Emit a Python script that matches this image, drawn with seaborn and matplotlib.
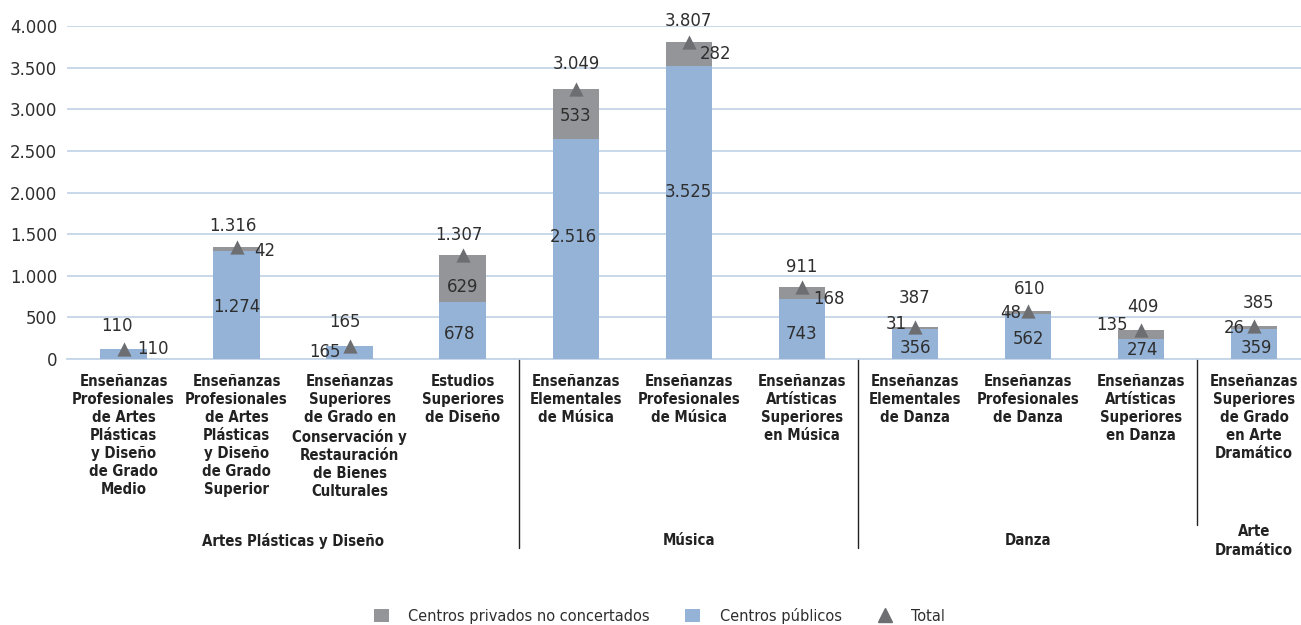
import matplotlib
matplotlib.use("Agg")
import matplotlib.pyplot as plt
import matplotlib.transforms as mtransforms
from matplotlib import font_manager as fm
from matplotlib.patches import Patch
from matplotlib.lines import Line2D
import numpy as np
import pandas as pd
import seaborn as sns

# categories (x axis)
categorias = [
    "Enseñanzas\nProfesionales\nde Artes\nPlásticas\ny Diseño\nde Grado\nMedio",
    "Enseñanzas\nProfesionales\nde Artes\nPlásticas\ny Diseño\nde Grado\nSuperior",
    "Enseñanzas\nSuperiores\nde Grado en\nConservación y\nRestauración\nde Bienes\nCulturales",
    "Estudios\nSuperiores\nde Diseño",
    "Enseñanzas\nElementales\nde Música",
    "Enseñanzas\nProfesionales\nde Música",
    "Enseñanzas\nArtísticas\nSuperiores\nen Música",
    "Enseñanzas\nElementales\nde Danza",
    "Enseñanzas\nProfesionales\nde Danza",
    "Enseñanzas\nArtísticas\nSuperiores\nen Danza",
    "Enseñanzas\nSuperiores\nde Grado\nen Arte\nDramático",
]
grupos = ["Artes Plásticas y Diseño", "Música", "Danza", "Arte\nDramático"]

# bar heights as drawn in the picture
publicos = [120, 1300, 156, 684, 2640, 3523, 720, 356, 537, 244, 360]
privados = [0, 45, 0, 564, 600, 283, 148, 28, 39, 104, 36]

# data labels as printed
etiq_publicos = ["110", "1.274", "165", "678", "2.516", "3.525", "743", "356", "562", "274", "359"]
etiq_privados = ["", "42", "", "629", "533", "282", "168", "31", "48", "135", "26"]
etiq_total = ["110", "1.316", "165", "1.307", "3.049", "3.807", "911", "387", "610", "409", "385"]

# label offsets in pixels (dx, dy) relative to segment centre
off_pub = [(29, 5), (0, -2), (-25, 1), (-3, -3), (-2, 12), (0, 20), (0, -5), (1, -4), (1, -2), (2, -1), (2, -4)]
off_priv = [(0, 0), (28, -2), (0, 0), (0, -8), (0, -2), (27, 0), (27, -6), (-19, 4), (-17, 0), (-29, 9), (-20, 0)]
off_tot = [(-7, 23), (-4, 21), (-5, 24), (-4, 20), (1, 25), (0, 21), (0, 20), (0, 29), (2, 22), (2, 23), (4, 23)]

C_PUB = "#95B3D7"
C_PRIV = "#939598"
C_TRI = "#6D6E71"
C_GRID = "#C5D5E8"
C_TXT = "#2E2E2E"

df = pd.DataFrame({"cat": categorias, "pub": publicos, "priv": privados})
df["total"] = df["pub"] + df["priv"]

sns.set_theme(style="white")

# a condensed face if one is installed, otherwise Roboto (narrower than DejaVu)
cond = [f.name for f in fm.fontManager.ttflist
        if "condensed" in str(f.stretch) and f.name in ("DejaVu Sans", "Noto Sans", "Open Sans", "Roboto", "Liberation Sans")]
if cond:
    plt.rcParams["font.family"] = [cond[0], "DejaVu Sans"]
    plt.rcParams["font.stretch"] = "condensed"
    FS_NUM, FS_CAT, LS_CAT, FS_LEG = 13.2, 10.7, 1.25, 11.7
else:
    plt.rcParams["font.family"] = ["Roboto", "DejaVu Sans"]
    FS_NUM, FS_CAT, LS_CAT, FS_LEG = 13.0, 9.6, 1.3, 11.5
plt.rcParams["text.color"] = C_TXT

fig = plt.figure(figsize=(13.01, 6.25), dpi=100)
ax = fig.add_axes([67 / 1301, 266 / 625, (1301 - 67) / 1301, 333 / 625])

sns.barplot(data=df, x="cat", y="total", color=C_PRIV, width=0.41, saturation=1,
            linewidth=0, edgecolor="none", ax=ax, zorder=2)
sns.barplot(data=df, x="cat", y="pub", color=C_PUB, width=0.41, saturation=1,
            linewidth=0, edgecolor="none", ax=ax, zorder=3)

xs = np.arange(len(categorias))
ax.scatter(xs, df["total"], marker="^", s=105, color=C_TRI, zorder=5, linewidths=0)

ax.set_xlim(-0.5, 10.416)
ax.set_ylim(0, 4000)
ax.set_yticks(np.arange(0, 4001, 500))
ax.set_yticklabels([f"{v:,}".replace(",", ".") for v in range(0, 4001, 500)], fontsize=FS_NUM, color=C_TXT)
ax.yaxis.grid(True, color=C_GRID, lw=1.3, zorder=0)
ax.set_axisbelow(True)
for s in ["top", "right", "left"]:
    ax.spines[s].set_visible(False)
ax.spines["bottom"].set_color(C_GRID)
ax.spines["bottom"].set_linewidth(1.3)
ax.tick_params(axis="y", length=0, pad=7)
ax.tick_params(axis="x", length=0, pad=11)
ax.set_xlabel("")
ax.set_ylabel("")
ax.set_xticks(xs)
ax.set_xticklabels(categorias, fontsize=FS_CAT, fontweight="bold", color="#222222",
                   linespacing=LS_CAT, va="top")

# data labels
for i in xs:
    pub = publicos[i]
    priv = privados[i]
    tot = pub + priv
    ax.annotate(etiq_total[i], (i, tot), xytext=off_tot[i], textcoords="offset pixels",
                ha="center", va="center", fontsize=FS_NUM, color=C_TXT, zorder=6)
    ax.annotate(etiq_publicos[i], (i, pub / 2), xytext=off_pub[i], textcoords="offset pixels",
                ha="center", va="center", fontsize=FS_NUM, color=C_TXT, zorder=6)
    if etiq_privados[i]:
        ax.annotate(etiq_privados[i], (i, pub + priv / 2), xytext=off_priv[i], textcoords="offset pixels",
                    ha="center", va="center", fontsize=FS_NUM, color=C_TXT, zorder=6)

# group separators and group names
trans = mtransforms.blended_transform_factory(ax.transData, ax.transAxes)
for xsep, ybot in [(3.5, -0.568), (6.5, -0.568), (9.5, -0.499)]:
    ax.plot([xsep, xsep], [0, ybot], color="#222222", lw=1, transform=trans, clip_on=False)
centros = [1.5, 5, 8, 10]
for g, nombre in enumerate(grupos):
    yy = -0.546 if g < 3 else -0.546
    ax.text(centros[g], yy, nombre, transform=trans, ha="center", va="center",
            fontsize=FS_CAT, fontweight="bold", color="#222222", linespacing=1.35)

handles = [
    Patch(facecolor=C_PRIV, edgecolor="none"),
    Patch(facecolor=C_PUB, edgecolor="none"),
    Line2D([], [], marker="^", color=C_TRI, linestyle="none", markersize=10),
]
fig.legend(handles, ["Centros privados no concertados", "Centros públicos", "Total"],
           loc="center", bbox_to_anchor=(0.507, 9 / 625), ncol=3, frameon=False,
           fontsize=FS_LEG, handlelength=0.9, handleheight=0.9, handletextpad=1.2,
           columnspacing=2.2, labelcolor=C_TXT)

fig.savefig("out.png", dpi=100)
